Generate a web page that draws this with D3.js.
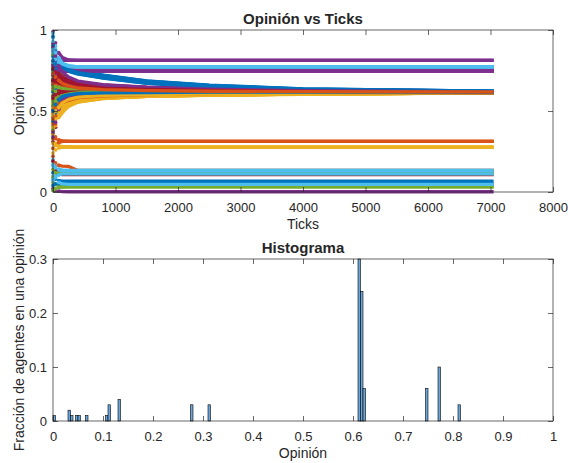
<!DOCTYPE html>
<html>
<head>
<meta charset="utf-8">
<script src="https://cdn.jsdelivr.net/npm/d3@7"></script>
<style>
  body { margin: 0; background: #fff; }
  svg text { font-family: "Liberation Sans", Arial, Helvetica, sans-serif; fill: #262626; }
</style>
</head>
<body>
<svg id="chart" width="568" height="463"></svg>
<script>
// Ticks at which every agent's opinion was sampled
const sampleTicks = [0, 40, 90, 150, 250, 400, 800, 1500, 2500, 4000, 7050];

// Opinion of each agent (rows, in plotting order) at the sample ticks
const opinions = [
  [0.88, 0.83, 0.80, 0.780, 0.760, 0.742, 0.720, 0.684, 0.658, 0.636, 0.622],
  [0.57, 0.60, 0.62, 0.640, 0.650, 0.645, 0.635, 0.628, 0.623, 0.620, 0.6175],
  [0.42, 0.46, 0.49, 0.510, 0.530, 0.556, 0.578, 0.591, 0.598, 0.604, 0.6125],
  [0.02, 0.01, 0.005, 0.002, 0.0015, 0.0015, 0.0015, 0.0015, 0.0015, 0.0015, 0.0015],
  [0.06, 0.045, 0.035, 0.032, 0.032, 0.032, 0.032, 0.032, 0.032, 0.032, 0.032],
  [0.10, 0.12, 0.13, 0.132, 0.132, 0.132, 0.132, 0.132, 0.132, 0.132, 0.132],
  [0.31, 0.40, 0.50, 0.560, 0.580, 0.595, 0.603, 0.607, 0.609, 0.611, 0.6125],
  [0.69, 0.74, 0.77, 0.775, 0.755, 0.738, 0.716, 0.680, 0.655, 0.634, 0.622],
  [0.36, 0.33, 0.32, 0.314, 0.313, 0.3125, 0.3125, 0.3125, 0.3125, 0.3125, 0.3125],
  [0.33, 0.30, 0.285, 0.280, 0.278, 0.2775, 0.2775, 0.2775, 0.2775, 0.2775, 0.2775],
  [0.70, 0.72, 0.74, 0.747, 0.748, 0.7475, 0.7475, 0.7475, 0.7475, 0.7475, 0.7475],
  [0.09, 0.05, 0.04, 0.038, 0.037, 0.037, 0.037, 0.037, 0.037, 0.037, 0.037],
  [0.95, 0.88, 0.82, 0.790, 0.777, 0.7725, 0.7725, 0.7725, 0.7725, 0.7725, 0.7725],
  [0.66, 0.65, 0.64, 0.630, 0.620, 0.615, 0.612, 0.611, 0.611, 0.612, 0.6125],
  [0.12, 0.08, 0.07, 0.067, 0.067, 0.067, 0.067, 0.067, 0.067, 0.067, 0.067],
  [0.77, 0.72, 0.70, 0.690, 0.675, 0.660, 0.645, 0.635, 0.627, 0.621, 0.6175],
  [0.55, 0.53, 0.52, 0.525, 0.540, 0.560, 0.580, 0.592, 0.599, 0.605, 0.6125],
  [0.99, 0.92, 0.86, 0.830, 0.815, 0.8125, 0.8125, 0.8125, 0.8125, 0.8125, 0.8125],
  [0.01, 0.02, 0.028, 0.031, 0.032, 0.032, 0.032, 0.032, 0.032, 0.032, 0.032],
  [0.08, 0.10, 0.11, 0.112, 0.112, 0.112, 0.112, 0.112, 0.112, 0.112, 0.112],
  [0.46, 0.52, 0.56, 0.590, 0.610, 0.620, 0.622, 0.620, 0.617, 0.614, 0.6125],
  [0.96, 0.87, 0.81, 0.785, 0.762, 0.745, 0.722, 0.686, 0.660, 0.637, 0.622],
  [0.27, 0.29, 0.305, 0.312, 0.313, 0.3125, 0.3125, 0.3125, 0.3125, 0.3125, 0.3125],
  [0.24, 0.26, 0.272, 0.277, 0.278, 0.2775, 0.2775, 0.2775, 0.2775, 0.2775, 0.2775],
  [0.85, 0.80, 0.77, 0.755, 0.750, 0.7475, 0.7475, 0.7475, 0.7475, 0.7475, 0.7475],
  [0.60, 0.62, 0.63, 0.635, 0.630, 0.625, 0.620, 0.617, 0.615, 0.613, 0.6125],
  [0.72, 0.75, 0.765, 0.770, 0.772, 0.7725, 0.7725, 0.7725, 0.7725, 0.7725, 0.7725],
  [0.89, 0.80, 0.75, 0.720, 0.700, 0.680, 0.660, 0.645, 0.635, 0.625, 0.6175],
  [0.04, 0.05, 0.052, 0.052, 0.052, 0.052, 0.052, 0.052, 0.052, 0.052, 0.052],
  [0.43, 0.50, 0.55, 0.570, 0.585, 0.595, 0.600, 0.606, 0.611, 0.615, 0.6175],
  [0.38, 0.44, 0.48, 0.500, 0.535, 0.558, 0.579, 0.590, 0.598, 0.604, 0.6125],
  [0.87, 0.84, 0.82, 0.815, 0.813, 0.8125, 0.8125, 0.8125, 0.8125, 0.8125, 0.8125],
  [0.70, 0.68, 0.67, 0.660, 0.645, 0.635, 0.625, 0.620, 0.616, 0.614, 0.6125],
  [0.20, 0.16, 0.14, 0.133, 0.133, 0.133, 0.133, 0.133, 0.133, 0.133, 0.133],
  [0.19, 0.13, 0.11, 0.107, 0.107, 0.107, 0.107, 0.107, 0.107, 0.107, 0.107],
  [0.75, 0.77, 0.78, 0.772, 0.750, 0.733, 0.712, 0.677, 0.652, 0.632, 0.622],
  [0.38, 0.34, 0.32, 0.315, 0.313, 0.3125, 0.3125, 0.3125, 0.3125, 0.3125, 0.3125],
  [0.30, 0.29, 0.28, 0.279, 0.278, 0.2775, 0.2775, 0.2775, 0.2775, 0.2775, 0.2775],
  [0.66, 0.70, 0.73, 0.745, 0.747, 0.7475, 0.7475, 0.7475, 0.7475, 0.7475, 0.7475],
  [0.14, 0.12, 0.115, 0.113, 0.113, 0.113, 0.113, 0.113, 0.113, 0.113, 0.113],
  [0.83, 0.80, 0.785, 0.778, 0.774, 0.7725, 0.7725, 0.7725, 0.7725, 0.7725, 0.7725],
  [0.53, 0.57, 0.60, 0.620, 0.635, 0.640, 0.637, 0.632, 0.626, 0.621, 0.6175],
  [0.62, 0.70, 0.75, 0.768, 0.752, 0.735, 0.708, 0.675, 0.650, 0.631, 0.622],
  [0.64, 0.66, 0.67, 0.670, 0.665, 0.655, 0.642, 0.633, 0.626, 0.621, 0.6175],
  [0.50, 0.51, 0.515, 0.520, 0.545, 0.563, 0.582, 0.593, 0.600, 0.606, 0.6125],
  [0.37, 0.45, 0.52, 0.570, 0.590, 0.600, 0.605, 0.608, 0.610, 0.611, 0.6125],
  [0.79, 0.75, 0.72, 0.700, 0.680, 0.665, 0.648, 0.635, 0.625, 0.617, 0.6125],
  [0.07, 0.09, 0.105, 0.112, 0.112, 0.112, 0.112, 0.112, 0.112, 0.112, 0.112],
  [0.68, 0.69, 0.69, 0.685, 0.670, 0.660, 0.650, 0.640, 0.631, 0.623, 0.6175],
  [0.84, 0.80, 0.785, 0.775, 0.758, 0.740, 0.718, 0.682, 0.656, 0.635, 0.622],
  [0.49, 0.53, 0.57, 0.600, 0.620, 0.630, 0.632, 0.629, 0.624, 0.620, 0.6175],
  [0.35, 0.41, 0.46, 0.490, 0.530, 0.555, 0.577, 0.590, 0.597, 0.603, 0.6125],
  [0.78, 0.80, 0.81, 0.812, 0.8125, 0.8125, 0.8125, 0.8125, 0.8125, 0.8125, 0.8125],
  [0.56, 0.58, 0.59, 0.600, 0.605, 0.607, 0.608, 0.609, 0.610, 0.611, 0.6125],
  [0.98, 0.90, 0.83, 0.795, 0.780, 0.7725, 0.7725, 0.7725, 0.7725, 0.7725, 0.7725],
  [0.72, 0.71, 0.70, 0.690, 0.680, 0.670, 0.655, 0.642, 0.632, 0.624, 0.6175],
  [0.62, 0.64, 0.655, 0.660, 0.655, 0.645, 0.632, 0.624, 0.618, 0.614, 0.6125],
  [0.22, 0.18, 0.165, 0.160, 0.158, 0.133, 0.133, 0.133, 0.133, 0.133, 0.133],
  [0.47, 0.50, 0.53, 0.560, 0.575, 0.588, 0.597, 0.603, 0.607, 0.610, 0.6125],
  [0.90, 0.82, 0.78, 0.760, 0.750, 0.7475, 0.7475, 0.7475, 0.7475, 0.7475, 0.7475],
  [0.85, 0.78, 0.74, 0.710, 0.690, 0.672, 0.655, 0.640, 0.628, 0.618, 0.6125],
  [0.17, 0.15, 0.14, 0.135, 0.133, 0.133, 0.133, 0.133, 0.133, 0.133, 0.133],
  [0.59, 0.61, 0.625, 0.640, 0.648, 0.650, 0.645, 0.637, 0.629, 0.622, 0.6175],
  [0.91, 0.85, 0.80, 0.770, 0.745, 0.728, 0.705, 0.672, 0.648, 0.629, 0.618],
  [0.33, 0.42, 0.50, 0.540, 0.565, 0.582, 0.596, 0.604, 0.610, 0.614, 0.6175],
  [0.58, 0.56, 0.545, 0.540, 0.550, 0.566, 0.584, 0.594, 0.600, 0.606, 0.6125],
  [0.74, 0.745, 0.747, 0.7475, 0.7475, 0.7475, 0.7475, 0.7475, 0.7475, 0.7475, 0.7475],
  [0.74, 0.73, 0.72, 0.710, 0.695, 0.675, 0.658, 0.642, 0.630, 0.619, 0.6125],
  [0.16, 0.09, 0.06, 0.050, 0.047, 0.047, 0.047, 0.047, 0.047, 0.047, 0.047],
  [0.51, 0.55, 0.58, 0.600, 0.612, 0.618, 0.620, 0.618, 0.616, 0.614, 0.6125],
  [0.76, 0.77, 0.775, 0.774, 0.773, 0.7725, 0.7725, 0.7725, 0.7725, 0.7725, 0.7725],
  [0.67, 0.67, 0.665, 0.660, 0.652, 0.645, 0.636, 0.629, 0.624, 0.620, 0.6175],
  [0.45, 0.48, 0.50, 0.515, 0.540, 0.561, 0.581, 0.592, 0.599, 0.605, 0.6125],
  [0.79, 0.77, 0.755, 0.750, 0.748, 0.7475, 0.7475, 0.7475, 0.7475, 0.7475, 0.7475],
  [0.39, 0.47, 0.53, 0.570, 0.585, 0.595, 0.600, 0.605, 0.608, 0.611, 0.6125],
  [0.88, 0.84, 0.80, 0.785, 0.776, 0.7725, 0.7725, 0.7725, 0.7725, 0.7725, 0.7725],
  [0.81, 0.76, 0.73, 0.710, 0.690, 0.675, 0.660, 0.646, 0.634, 0.624, 0.6175],
  [0.73, 0.76, 0.77, 0.765, 0.748, 0.730, 0.703, 0.670, 0.647, 0.628, 0.618],
  [0.41, 0.47, 0.52, 0.550, 0.570, 0.586, 0.598, 0.605, 0.610, 0.614, 0.6175],
  [0.40, 0.45, 0.49, 0.505, 0.538, 0.559, 0.580, 0.591, 0.598, 0.604, 0.6125],
  [0.69, 0.73, 0.755, 0.765, 0.770, 0.7725, 0.7725, 0.7725, 0.7725, 0.7725, 0.7725],
  [0.63, 0.62, 0.61, 0.605, 0.600, 0.600, 0.602, 0.605, 0.608, 0.611, 0.6125],
  [0.86, 0.82, 0.795, 0.782, 0.775, 0.7725, 0.7725, 0.7725, 0.7725, 0.7725, 0.7725],
  [0.76, 0.74, 0.72, 0.700, 0.685, 0.668, 0.650, 0.636, 0.626, 0.617, 0.6125],
  [0.44, 0.49, 0.54, 0.575, 0.595, 0.605, 0.610, 0.611, 0.611, 0.612, 0.6125],
  [0.45, 0.50, 0.53, 0.545, 0.562, 0.578, 0.592, 0.601, 0.607, 0.612, 0.6175],
  [0.52, 0.52, 0.525, 0.530, 0.548, 0.565, 0.583, 0.593, 0.600, 0.605, 0.6125],
  [0.34, 0.43, 0.51, 0.565, 0.588, 0.600, 0.607, 0.610, 0.611, 0.612, 0.6125],
  [0.65, 0.65, 0.645, 0.640, 0.635, 0.630, 0.623, 0.618, 0.615, 0.613, 0.6125],
  [0.80, 0.79, 0.783, 0.777, 0.774, 0.7725, 0.7725, 0.7725, 0.7725, 0.7725, 0.7725],
  [0.58, 0.60, 0.61, 0.615, 0.617, 0.616, 0.614, 0.613, 0.612, 0.612, 0.6125],
  [0.81, 0.79, 0.78, 0.770, 0.754, 0.737, 0.714, 0.679, 0.654, 0.633, 0.618],
  [0.48, 0.52, 0.54, 0.552, 0.566, 0.582, 0.594, 0.602, 0.608, 0.613, 0.6175],
  [0.48, 0.50, 0.52, 0.550, 0.572, 0.586, 0.596, 0.602, 0.606, 0.609, 0.6125],
  [0.92, 0.84, 0.78, 0.740, 0.710, 0.685, 0.662, 0.647, 0.635, 0.625, 0.6175],
  [0.54, 0.56, 0.58, 0.595, 0.605, 0.612, 0.616, 0.618, 0.618, 0.618, 0.6175],
  [0.93, 0.86, 0.81, 0.790, 0.776, 0.7725, 0.7725, 0.7725, 0.7725, 0.7725, 0.7725],
  [0.69, 0.68, 0.675, 0.665, 0.655, 0.648, 0.640, 0.633, 0.627, 0.621, 0.6175],
  [0.50, 0.54, 0.57, 0.590, 0.600, 0.607, 0.612, 0.614, 0.616, 0.617, 0.6175],
  [0.73, 0.71, 0.69, 0.670, 0.655, 0.642, 0.632, 0.626, 0.622, 0.619, 0.6175]
];

// Histogram: left edge of each occupied bin and the fraction of agents in it
const binWidth = 0.005;
const binEdges  = [0, 0.03, 0.035, 0.045, 0.05, 0.065, 0.105, 0.11, 0.13, 0.275, 0.31, 0.61, 0.615, 0.62, 0.745, 0.77, 0.81];
const fractions = [0.01, 0.02, 0.01, 0.01, 0.01, 0.01, 0.01, 0.03, 0.04, 0.03, 0.03, 0.30, 0.24, 0.06, 0.06, 0.10, 0.03];

// Axis ticks and their labels
const topXTicks = [0, 1000, 2000, 3000, 4000, 5000, 6000, 7000, 8000];
const topXLabels = ["0", "1000", "2000", "3000", "4000", "5000", "6000", "7000", "8000"];
const topYTicks = [0, 0.5, 1];
const topYLabels = ["0", "0.5", "1"];
const botXTicks = [0, 0.1, 0.2, 0.3, 0.4, 0.5, 0.6, 0.7, 0.8, 0.9, 1];
const botXLabels = ["0", "0.1", "0.2", "0.3", "0.4", "0.5", "0.6", "0.7", "0.8", "0.9", "1"];
const botYTicks = [0, 0.1, 0.2, 0.3];
const botYLabels = ["0", "0.1", "0.2", "0.3"];

// Line colour cycle
const colorOrder = ["#0072BD", "#D95319", "#EDB120", "#7E2F8E", "#77AC30", "#4DBEEE", "#A2142F"];

const svg = d3.select("#chart");
const L = 53, R = 553;
const top1 = 30, bot1 = 192;
const top2 = 259, bot2 = 421;
const axisColor = "#262626";

function frame(x, y, yTop, yBot, xTicks, xLabels, yTicks, yLabels) {
  const g = svg.append("g");
  const xa = g.append("g").attr("transform", `translate(0,${yBot})`)
    .call(d3.axisBottom(x).tickValues(xTicks).tickFormat((d, i) => xLabels[i])
      .tickSizeInner(-5).tickSizeOuter(0).tickPadding(11));
  const xt = g.append("g").attr("transform", `translate(0,${yTop})`)
    .call(d3.axisTop(x).tickValues(xTicks).tickFormat("").tickSizeInner(-5).tickSizeOuter(0));
  const ya = g.append("g").attr("transform", `translate(${L},0)`)
    .call(d3.axisLeft(y).tickValues(yTicks).tickFormat((d, i) => yLabels[i])
      .tickSizeInner(-5).tickSizeOuter(0).tickPadding(6));
  const yr = g.append("g").attr("transform", `translate(${R},0)`)
    .call(d3.axisRight(y).tickValues(yTicks).tickFormat("").tickSizeInner(-5).tickSizeOuter(0));
  [xa, xt, ya, yr].forEach(a => {
    a.attr("color", axisColor).attr("font-size", null).attr("font-family", null);
    a.select(".domain").remove();
    a.selectAll("line").attr("stroke-width", 0.7);
    a.selectAll("text").style("font-size", "13px");
  });
  g.append("rect").attr("x", L).attr("y", yTop).attr("width", R - L).attr("height", yBot - yTop)
    .attr("fill", "none").attr("stroke", axisColor).attr("stroke-width", 0.7);
}

// ---- Opinión vs Ticks ----
const x1 = d3.scaleLinear().domain([0, 8000]).range([L, R]);
const y1 = d3.scaleLinear().domain([0, 1]).range([bot1, top1]);
const line = d3.line().x(d => x1(d[0])).y(d => y1(d[1]));

const traj = svg.append("g");
opinions.forEach((row, i) => {
  const c = colorOrder[i % colorOrder.length];
  const pts = sampleTicks.map((t, k) => [t, row[k]]);
  const ag = traj.append("g");
  ag.append("path").attr("d", line(pts.slice(2)))
    .attr("fill", "none").attr("stroke", c).attr("stroke-width", 3.3)
    .attr("stroke-linejoin", "round");
  ag.selectAll("circle").data(pts.slice(0, 3)).join("circle")
    .attr("cx", d => x1(d[0])).attr("cy", d => y1(d[1])).attr("r", 1.9).attr("fill", c);
});
frame(x1, y1, top1, bot1, topXTicks, topXLabels, topYTicks, topYLabels);

// ---- Histograma ----
const x2 = d3.scaleLinear().domain([0, 1]).range([L, R]);
const y2 = d3.scaleLinear().domain([0, 0.3]).range([bot2, top2]);
svg.append("g").selectAll("rect").data(binEdges).join("rect")
  .attr("x", d => x2(d))
  .attr("width", d => x2(d + binWidth) - x2(d))
  .attr("y", (d, i) => y2(fractions[i]))
  .attr("height", (d, i) => y2(0) - y2(fractions[i]))
  .attr("fill", "#6aa6da").attr("stroke", "#000").attr("stroke-width", 0.6);
frame(x2, y2, top2, bot2, botXTicks, botXLabels, botYTicks, botYLabels);

// ---- Titles and axis labels ----
const cx = (L + R) / 2;
svg.append("text").attr("x", cx).attr("y", 24).attr("text-anchor", "middle")
  .style("font-size", "15px").style("font-weight", "bold").text("Opinión vs Ticks");
svg.append("text").attr("x", cx).attr("y", 229).attr("text-anchor", "middle")
  .style("font-size", "14px").text("Ticks");
svg.append("text").attr("transform", `translate(24,${(top1 + bot1) / 2}) rotate(-90)`)
  .attr("text-anchor", "middle").style("font-size", "14px").text("Opinión");

svg.append("text").attr("x", cx).attr("y", 253).attr("text-anchor", "middle")
  .style("font-size", "15px").style("font-weight", "bold").text("Histograma");
svg.append("text").attr("x", cx).attr("y", 458).attr("text-anchor", "middle")
  .style("font-size", "14px").text("Opinión");
svg.append("text").attr("transform", `translate(24,${(top2 + bot2) / 2}) rotate(-90)`)
  .attr("text-anchor", "middle").style("font-size", "14px").text("Fracción de agentes en una opinión");
</script>
</body>
</html>
